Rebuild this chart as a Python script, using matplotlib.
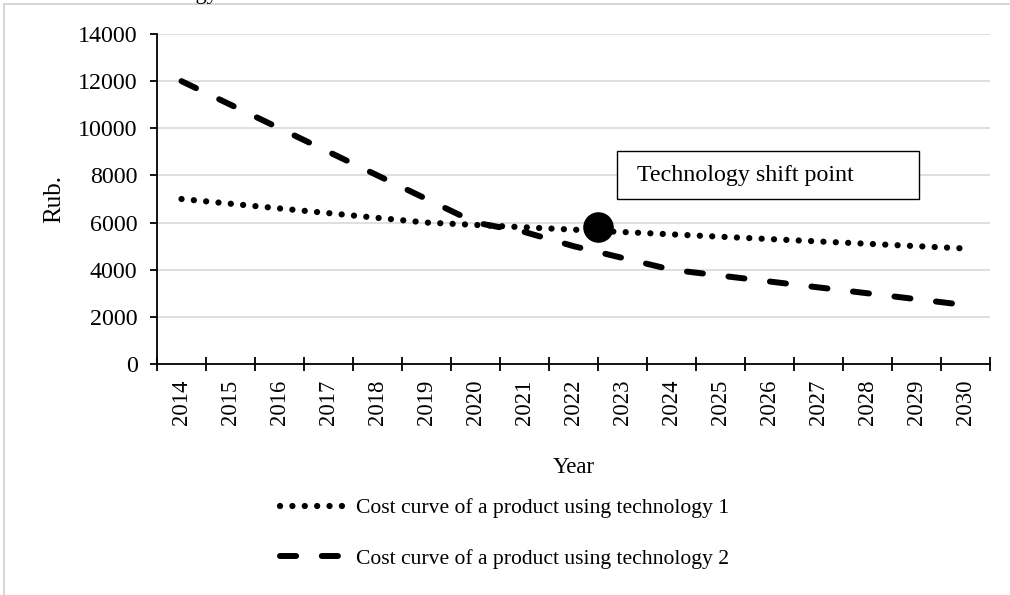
import matplotlib
matplotlib.use("Agg")
import matplotlib.pyplot as plt
from matplotlib.patches import Rectangle
from matplotlib.lines import Line2D

plt.rcParams['font.family'] = ['Liberation Serif', 'DejaVu Serif']

years = [str(y) for y in range(2014, 2031)]
tech1 = [7000, 6800, 6600, 6400, 6200, 6000, 5900, 5800, 5700,
         5600, 5500, 5400, 5300, 5200, 5100, 5000, 4900]
tech2 = [12000, 11000, 10000, 9000, 8000, 7000, 6000, 5600, 5000,
         4500, 4000, 3750, 3500, 3250, 3000, 2750, 2500]
shift_pos = 8.5
shift_cost = 5800
label1 = "Cost curve of a product using technology 1"
label2 = "Cost curve of a product using technology 2"

fig = plt.figure(figsize=(10.1, 5.95), dpi=100)
W, H = 1010, 595
ax = fig.add_axes([157 / W, (H - 364) / H, (990 - 157) / W, (364 - 34) / H])

dot_style = dict(color="black", lw=4.5, linestyle=(0, (0.01, 1.97)),
                 dash_capstyle="round")
dash_style = dict(color="black", lw=4.3, linestyle=(0, (2.7, 4.3)),
                  dash_capstyle="round")

x = list(range(len(years)))
ax.plot(x, tech1, **dot_style)
ax.plot(x, tech2, **dash_style)
ax.plot([shift_pos], [shift_cost], "o", color="black", markersize=21)

# text box
ax.add_patch(Rectangle((8.89, 7000), 6.16, 2045, fill=True, facecolor="white",
                       edgecolor="black", lw=1.0, zorder=5))
ax.text(9.3, 7980, "Technology shift point", fontsize=17.3, va="center",
        ha="left", zorder=6)

ax.set_xlim(-0.5, len(years) - 0.5)
ax.set_ylim(0, 14000)
ax.set_yticks(range(0, 14001, 2000))
ax.set_xticks([i - 0.5 for i in range(len(years) + 1)])
ax.set_xticklabels([])
ax.set_xticks(x, minor=True)
ax.set_xticklabels(years, minor=True, rotation=90)
ax.tick_params(axis="x", which="major", direction="inout", length=10,
               width=1.3)
ax.tick_params(axis="x", which="minor", length=0, pad=11, labelsize=16.3)
ax.tick_params(axis="y", direction="out", length=5, width=1.3, pad=9,
               labelsize=17.3)

for s in ["top", "right"]:
    ax.spines[s].set_visible(False)
for s in ["left", "bottom"]:
    ax.spines[s].set_linewidth(1.3)
ax.grid(axis="y", color="#d9d9d9", lw=1.2)
ax.set_axisbelow(True)

ax.set_ylabel("Rub.", fontsize=18, labelpad=9)
ax.set_xlabel("Year", fontsize=16.5, labelpad=23)

h1 = Line2D([], [], **dot_style)
h2 = Line2D([], [], **dash_style)
fig.legend([h1, h2], [label1, label2], loc="center", frameon=False,
           bbox_to_anchor=(0.5, (H - 533.5) / H), fontsize=15.6,
           handlelength=3.1, handletextpad=0.4, labelspacing=1.42)

# chart area border
fig.add_artist(Rectangle((4 / W, -0.1), 1.2, (H - 4) / H + 0.1,
                         transform=fig.transFigure, fill=False,
                         edgecolor="#d0d0d0", lw=1.2))
# clipped title remnant
fig.text(218 / W, 1 + 1 / H, "Technology", fontsize=16, ha="right",
         va="baseline")

fig.savefig("out.png", dpi=100)
